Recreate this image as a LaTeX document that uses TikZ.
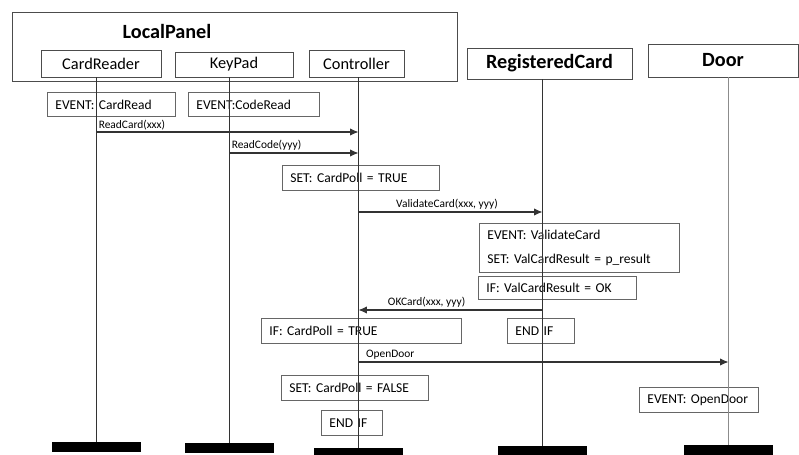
\documentclass[tikz,border=0pt]{standalone}
\usepackage{fontspec}
\setmainfont{Carlito}
\usetikzlibrary{arrows.meta,positioning}
\tikzset{
  obj/.style    = {draw=black!70, line width=0.5pt, inner sep=0pt, font=\fontsize{9.3}{10}\selectfont},
  objb/.style   = {obj, font=\fontsize{11.5}{13}\bfseries\selectfont},
  note/.style   = {draw=black!60, line width=0.5pt, anchor=north west, align=left, inner xsep=0.16cm, inner ysep=0pt,
                   font=\fontsize{7.7}{9}\selectfont, execute at begin node=\frenchspacing},
  endbar/.style = {fill=black, minimum width=1.78cm, minimum height=0.2cm, inner sep=0pt},
  life/.style   = {draw=black!80, line width=0.6pt},
  msg/.style    = {-{Latex[length=1.7mm,width=1.5mm]}, draw=black!80, line width=0.6pt},
  lbl/.style    = {font=\fontsize{6.5}{7}\selectfont, inner sep=1pt},
}

\begin{document}
\begin{tikzpicture}[x=0.02cm, y=-0.02cm]
  \useasboundingbox (0,0) rectangle (799,454);
  % objects
  \node[draw=black!70, line width=0.5pt, anchor=north west, minimum width=8.9cm, minimum height=1.38cm, inner sep=0pt] (lp) at (12,12) {};
  \node[font=\fontsize{11.5}{13}\bfseries\selectfont] (lptitle) at (167,31) {LocalPanel};
  \node[obj, minimum width=2.4cm, minimum height=0.54cm] (cr) at (101,63.5) {CardReader};
  \node[obj, minimum width=2.36cm, minimum height=0.5cm] (kp) at (234,64.5) {KeyPad};
  \node[obj, minimum width=1.9cm, minimum height=0.54cm] (ct) at (356.5,63.5) {Controller};
  \node[objb, minimum width=3.3cm, minimum height=0.62cm] (rc) at (549.5,63.5) {RegisteredCard};
  \node[objb, minimum width=3.0cm, minimum height=0.66cm] (dr) at (723,60.5) {Door};
  % end bars
  \node[endbar] (crbar) at (96.5,447) {};
  \node[endbar] (kpbar) at (229.5,448) {};
  \node[endbar] (ctbar) at (358.5,453) {};
  \node[endbar] (rcbar) at (542.5,451) {};
  \node[endbar] (drbar) at (728.5,450) {};
  % notes
  \node[note, text width=2.24cm, minimum height=0.48cm] (ev1) at (47,92) {EVENT: CardRead};
  \node[note, text width=2.30cm, minimum height=0.48cm] (ev2) at (188,92) {EVENT:CodeRead};
  \node[note, text width=2.82cm, minimum height=0.5cm] (set1) at (282,165) {SET: CardPoll = TRUE};
  \node[note, text width=3.68cm, minimum height=0.98cm, font=\fontsize{7.7}{13.5}\selectfont] (ev3) at (479,223) {EVENT: ValidateCard\\SET: ValCardResult = p\_result};
  \node[note, text width=2.84cm, minimum height=0.46cm] (if1) at (478,276) {IF: ValCardResult = OK};
  \node[note, text width=1.02cm, minimum height=0.5cm] (end1) at (507,318) {END IF};
  \node[note, text width=3.68cm, minimum height=0.5cm] (if2) at (261,318) {IF: CardPoll = TRUE};
  \node[note, text width=2.62cm, minimum height=0.5cm] (set2) at (281,375) {SET: CardPoll = FALSE};
  \node[note, text width=0.90cm, minimum height=0.5cm] (end2) at (321,410) {END IF};
  \node[note, text width=2.06cm, minimum height=0.5cm] (ev4) at (639,387) {EVENT: OpenDoor};
  % lifelines
  \draw[life] (crbar.north) -- (crbar.north |- cr.south);
  \draw[life] (kpbar.north) -- (kpbar.north |- kp.south);
  \draw[life] (ctbar.north) -- (ctbar.north |- ct.south);
  \draw[life] (rcbar.north) -- (rcbar.north |- rc.south);
  \draw[draw=black!45, line width=1pt] (drbar.north) -- (drbar.north |- dr.south);
  % messages
  \draw[msg] (crbar.north |- 0,132) -- node[lbl, pos=0, above right]{ReadCard(xxx)} (ctbar.north |- 0,132);
  \draw[msg] (kpbar.north |- 0,153) -- node[lbl, pos=0, above right]{ReadCode(yyy)} (ctbar.north |- 0,153);
  \draw[msg] (ctbar.north |- 0,212) -- node[lbl, midway, above, xshift=-2pt]{ValidateCard(xxx, yyy)} (rcbar.north |- 0,212);
  \draw[msg] (rcbar.north |- 0,310) -- node[lbl, pos=0.63, above]{OKCard(xxx, yyy)} (ctbar.north |- 0,310);
  \draw[msg] (ctbar.north |- 0,362) -- node[lbl, pos=0, above right, xshift=3pt]{OpenDoor} (drbar.north |- 0,362);
\end{tikzpicture}
\end{document}
